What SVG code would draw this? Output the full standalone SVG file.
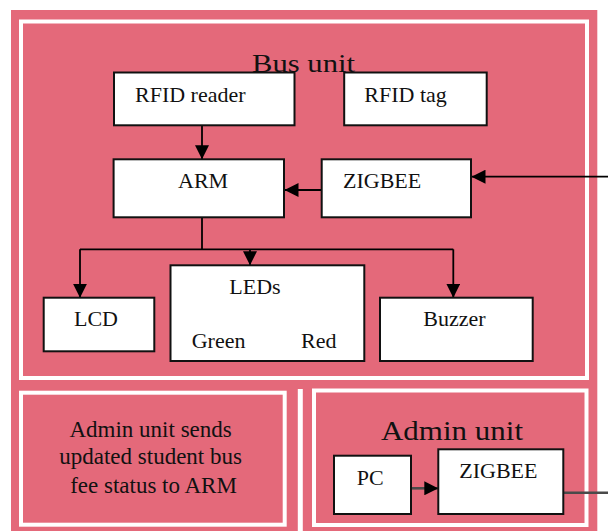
<svg xmlns="http://www.w3.org/2000/svg" width="608" height="531" viewBox="0 0 608 531">
  <defs>
    <style>
      .frame { fill: none; stroke: #ffffff; stroke-width: 4; }
      .box { fill: #ffffff; stroke: #111111; stroke-width: 2; }
      .t { font-family: "Liberation Serif", "Times New Roman", serif; font-size: 22px; fill: #111111; }
      .big { font-family: "Liberation Serif", "Times New Roman", serif; fill: #111111; }
      .conn { stroke: #000000; stroke-width: 1.8; fill: none; }
      .gray { stroke: #4a4a4a; stroke-width: 2.6; fill: none; }
    </style>
    <marker id="ah" markerUnits="userSpaceOnUse" markerWidth="14" markerHeight="14" refX="14" refY="7" orient="auto">
      <path d="M0,0 L14,7 L0,14 z" fill="#000000"/>
    </marker>
  </defs>

  <rect x="0" y="0" width="608" height="531" fill="#ffffff"/>
  <rect x="11" y="10" width="586.3" height="521" fill="#E4697A"/>

  <g id="bus-unit-frame">
    <rect class="frame" x="21" y="21.5" width="566" height="356.5"/>
    <text class="big" x="303.5" y="72" font-size="26" text-anchor="middle" textLength="103" lengthAdjust="spacingAndGlyphs">Bus unit</text>
  </g>

  <g id="note-frame">
    <rect class="frame" x="21" y="392.7" width="263.7" height="132"/>
    <text class="big" font-size="23" text-anchor="middle">
      <tspan x="153.5" y="436.7">Admin unit sends</tspan>
      <tspan x="153.5" y="464">updated student bus</tspan>
      <tspan x="153.5" y="492.7">fee status to ARM</tspan>
    </text>
  </g>

  <line x1="300.3" y1="389" x2="300.3" y2="531" stroke="#ffffff" stroke-width="5"/>

  <g id="admin-unit-frame">
    <rect class="frame" x="314" y="390.5" width="272.5" height="134.5"/>
    <text class="big" x="381" y="440" font-size="28" textLength="142" lengthAdjust="spacingAndGlyphs">Admin unit</text>
  </g>

  <g id="connectors">
    <line class="conn" x1="202" y1="125.3" x2="202" y2="159.3" marker-end="url(#ah)"/>
    <line class="conn" x1="321.7" y1="190" x2="284.5" y2="190" marker-end="url(#ah)"/>
    <line class="conn" x1="608" y1="176.7" x2="471.5" y2="176.7" marker-end="url(#ah)"/>
    <polyline class="conn" points="202,217.3 202,249.3"/>
    <polyline class="conn" points="80,249.3 453.3,249.3"/>
    <line class="conn" x1="80" y1="249.3" x2="80" y2="297.7" marker-end="url(#ah)"/>
    <line class="conn" x1="250" y1="249.3" x2="250" y2="265.3" marker-end="url(#ah)"/>
    <line class="conn" x1="453.3" y1="249.3" x2="453.3" y2="297.7" marker-end="url(#ah)"/>
    <line class="gray" x1="411" y1="488.3" x2="438.3" y2="488.3" marker-end="url(#ah)"/>
    <line class="gray" x1="563.3" y1="492.7" x2="608" y2="492.7"/>
  </g>

  <g id="rfid-reader">
    <rect class="box" x="114" y="72.5" width="180.5" height="52.8"/>
    <text class="t" x="135" y="101.7">RFID reader</text>
  </g>
  <g id="rfid-tag">
    <rect class="box" x="344.2" y="72.5" width="142.5" height="52.8"/>
    <text class="t" x="364.3" y="101.7">RFID tag</text>
  </g>
  <g id="arm">
    <rect class="box" x="113.6" y="159.3" width="170.4" height="58"/>
    <text class="t" x="178" y="188">ARM</text>
  </g>
  <g id="zigbee-bus">
    <rect class="box" x="321.7" y="159.3" width="149.3" height="58"/>
    <text class="t" x="343" y="188">ZIGBEE</text>
  </g>
  <g id="lcd">
    <rect class="box" x="43.7" y="297.7" width="110.6" height="53.6"/>
    <text class="t" x="74" y="326">LCD</text>
  </g>
  <g id="leds">
    <rect class="box" x="170.5" y="265.3" width="193.8" height="95.7"/>
    <text class="t" x="229.3" y="294">LEDs</text>
    <text class="t" x="191.7" y="348.3">Green</text>
    <text class="t" x="301" y="348.3">Red</text>
  </g>
  <g id="buzzer">
    <rect class="box" x="380" y="297.7" width="152.7" height="63.3"/>
    <text class="t" x="423.3" y="326">Buzzer</text>
  </g>
  <g id="pc">
    <rect class="box" x="334" y="455.7" width="77" height="58.3"/>
    <text class="t" x="356.7" y="485">PC</text>
  </g>
  <g id="zigbee-admin">
    <rect class="box" x="438.3" y="449.3" width="125" height="64.7"/>
    <text class="t" x="459.3" y="478.3">ZIGBEE</text>
  </g>
</svg>
